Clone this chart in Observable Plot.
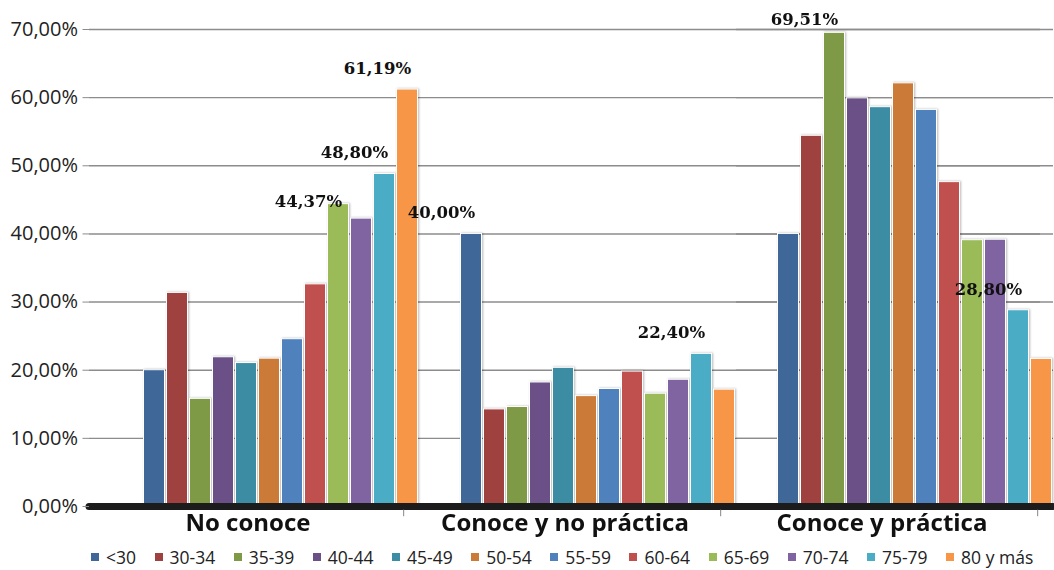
<!DOCTYPE html>
<html>
<head>
<meta charset="utf-8">
<script src="https://cdn.jsdelivr.net/npm/d3@7"></script>
<script src="https://cdn.jsdelivr.net/npm/@observablehq/plot@0.6"></script>
<style>
  html, body { margin: 0; padding: 0; background: #fff; }
  #chart { width: 1054px; }
  #key { height: 30px; padding-left: 91px; display: flex; align-items: center; margin-top: 2px; }
  .agekey-swatches-wrap { min-height: 0 !important; flex-wrap: nowrap !important; white-space: nowrap; }
  .agekey-swatch { margin-right: 18.5px !important; }
  .agekey-swatch > svg { margin-right: 7px !important; }
  #chart g[aria-label="bar"] { filter: drop-shadow(1.2px 0px 1.2px rgba(0,0,0,0.28)); }
</style>
</head>
<body>
<div id="chart"></div>
<div id="key"></div>
<script>
// Knowledge / practice categories and age bands
const groups = ["No conoce", "Conoce y no práctica", "Conoce y práctica"];
const ageBands = ["<30", "30-34", "35-39", "40-44", "45-49", "50-54", "55-59", "60-64", "65-69", "70-74", "75-79", "80 y más"];
const bandColors = ["#3F6899", "#9E413F", "#7F9A47", "#6A5086", "#3C8CA3", "#CC7A37",
                    "#4F81BD", "#C0504D", "#9BBB59", "#8064A2", "#4BACC6", "#F79646"];

// Share of each age band (percent) in each category
const noConoce         = [20.00, 31.35, 15.80, 21.90, 21.05, 21.70, 24.55, 32.60, 44.37, 42.25, 48.80, 61.19];
const conoceNoPractica = [40.00, 14.25, 14.60, 18.20, 20.35, 16.20, 17.25, 19.80, 16.55, 18.60, 22.40, 17.15];
const conocePractica   = [40.00, 54.40, 69.51, 59.90, 58.60, 62.10, 58.20, 47.60, 39.08, 39.15, 28.80, 21.66];

const yTicks = [0, 10, 20, 30, 40, 50, 60, 70];

// Bars that carry a value label
const labelledBars = [
  ["No conoce", "65-69"], ["No conoce", "75-79"], ["No conoce", "80 y más"],
  ["Conoce y no práctica", "<30"], ["Conoce y no práctica", "75-79"],
  ["Conoce y práctica", "35-39"], ["Conoce y práctica", "75-79"]
];

const seriesByGroup = [noConoce, conoceNoPractica, conocePractica];
const rows = groups.flatMap((g, i) => ageBands.map((a, j) => ({group: g, age: a, value: seriesByGroup[i][j]})));
const keyOf = r => r.group + "|" + r.age;
const labelRows = rows.filter(r => labelledBars.some(([g, a]) => g === r.group && a === r.age));

const pct = v => v.toFixed(2).replace(".", ",") + "%";

// Vertical gap between a label and its bar top (a couple sit closer)
const defaultLift = 21;
const labelLift = {"No conoce|65-69": 2, "Conoce y práctica|35-39": 13};
const lifts = [...new Set(labelRows.map(r => labelLift[keyOf(r)] ?? defaultLift))];

const gridStyle = {stroke: "#8c8c8c", strokeWidth: 1.4};
const baseStyle = {stroke: "#1c1c1c", strokeWidth: 7, strokeLinecap: "round"};
const lastGroup = () => groups[groups.length - 1];

const chart = Plot.plot({
  width: 1054,
  height: 540,
  marginTop: 29,
  marginBottom: 34,
  marginLeft: 88.5,
  marginRight: 13,
  style: {fontFamily: "'Open Sans', sans-serif", background: "#fff", overflow: "visible"},
  fx: {domain: groups, padding: 0, label: null},
  x: {domain: ageBands, paddingInner: 0.09, paddingOuter: 0.78, axis: null},
  y: {domain: [0, 70], label: null},
  color: {domain: ageBands, range: bandColors},
  marks: [
    // horizontal grid, plus its run past the last category
    Plot.ruleY(yTicks, gridStyle),
    Plot.ruleY(yTicks, {...gridStyle, fx: lastGroup, dx: 13}),
    Plot.barY(rows, {fx: "group", x: "age", y: "value", fill: "age", stroke: "white", strokeWidth: 1, dx: 33}),
    // heavy baseline
    Plot.ruleY([0], baseStyle),
    Plot.ruleY([0], {...baseStyle, fx: lastGroup, dx: 13}),
    // small ticks marking the category boundaries
    Plot.ruleX([ageBands[ageBands.length - 1]], {x: d => d, y1: -0.55, y2: -1.5, dx: 29.1, stroke: "#9a9a9a", strokeWidth: 1.2}),
    ...lifts.map(lift => Plot.text(
      labelRows.filter(r => (labelLift[keyOf(r)] ?? defaultLift) === lift),
      {fx: "group", x: "age", y: "value", text: d => pct(d.value), dx: 3, dy: -lift,
       fontSize: 16.5, fontWeight: "bold", fontFamily: "'DejaVu Serif', serif", fill: "#111"}
    )),
    Plot.axisY({ticks: yTicks, tickFormat: pct, tickSize: 6.5, tickPadding: 5, fontSize: 20,
                stroke: "#8c8c8c", fill: "#222", label: null}),
    Plot.axisFx({anchor: "bottom", tickSize: 0, tickPadding: 7, fontSize: 24, fontWeight: "bold",
                 fill: "#111", label: null})
  ]
});

document.getElementById("chart").append(chart);

const key = chart.legend("color", {
  swatchSize: 8,
  className: "agekey",
  style: {fontFamily: "'Open Sans', sans-serif", fontSize: "17.5px", color: "#222", margin: "0"}
});
document.getElementById("key").append(key);
</script>
</body>
</html>
